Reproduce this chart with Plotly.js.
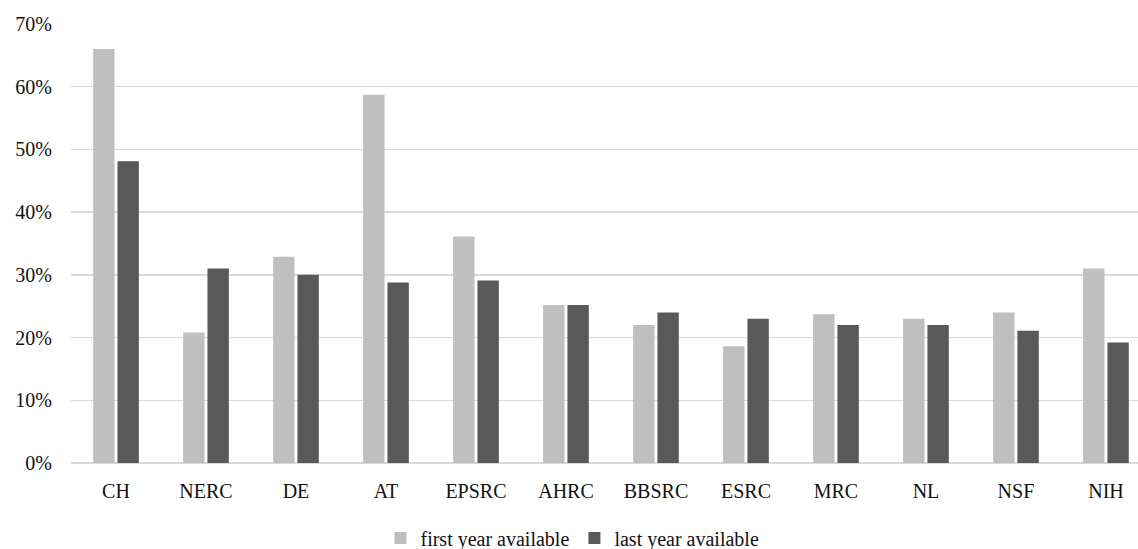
<!DOCTYPE html>
<html>
<head>
<meta charset="utf-8">
<script src="https://cdn.plot.ly/plotly-3.0.1.min.js"></script>
<style>
  html, body { margin: 0; padding: 0; background: #fff; }
  #chart { width: 1138px; height: 549px; }
</style>
</head>
<body>
<div id="chart"></div>
<script>
const categories = ["CH", "NERC", "DE", "AT", "EPSRC", "AHRC", "BBSRC", "ESRC", "MRC", "NL", "NSF", "NIH"];
const firstYear = [66.0, 20.8, 32.9, 58.7, 36.1, 25.2, 22.0, 18.6, 23.7, 23.0, 24.0, 31.0];
const lastYear  = [48.1, 31.0, 30.0, 28.8, 29.1, 25.2, 24.0, 23.0, 22.0, 22.0, 21.1, 19.2];
const seriesNames = ["first year available", "last year available"];
const yTicks = [0, 10, 20, 30, 40, 50, 60, 70];

const font = { family: "Liberation Serif, Times New Roman, serif", size: 20, color: "#111111" };

const traces = [
  { type: "bar", name: seriesNames[0], x: categories, y: firstYear,
    marker: { color: "#bfbfbf" }, hoverinfo: "x+y" },
  { type: "bar", name: seriesNames[1], x: categories, y: lastYear,
    marker: { color: "#595959" }, hoverinfo: "x+y" }
];

const layout = {
  width: 1138, height: 549,
  margin: { l: 71, r: 0, t: 24, b: 86, autoexpand: false },
  paper_bgcolor: "#fff", plot_bgcolor: "#fff",
  font: font,
  barmode: "group",
  bargap: 0.46,
  bargroupgap: 0.12,
  showlegend: true,
  legend: {
    orientation: "h", x: 0.47, xanchor: "center",
    yref: "container", y: 0.02, yanchor: "middle",
    font: font, traceorder: "normal", itemwidth: 30
  },
  xaxis: {
    type: "category",
    range: [-0.5, 11.356],
    showgrid: false, zeroline: false, showline: false,
    ticks: "outside", ticklen: 10, tickcolor: "rgba(0,0,0,0)",
    tickfont: font, fixedrange: true
  },
  yaxis: {
    range: [0, 70],
    tickvals: yTicks,
    ticktext: yTicks.map(v => v + "%"),
    showgrid: true, gridcolor: "#d9d9d9", gridwidth: 1.5,
    zeroline: true, zerolinecolor: "#d9d9d9", zerolinewidth: 1.5,
    showline: false,
    ticks: "outside", ticklen: 14, tickcolor: "rgba(0,0,0,0)",
    tickfont: font, fixedrange: true
  }
};

Plotly.newPlot("chart", traces, layout, { displayModeBar: false, staticPlot: true });
</script>
</body>
</html>
